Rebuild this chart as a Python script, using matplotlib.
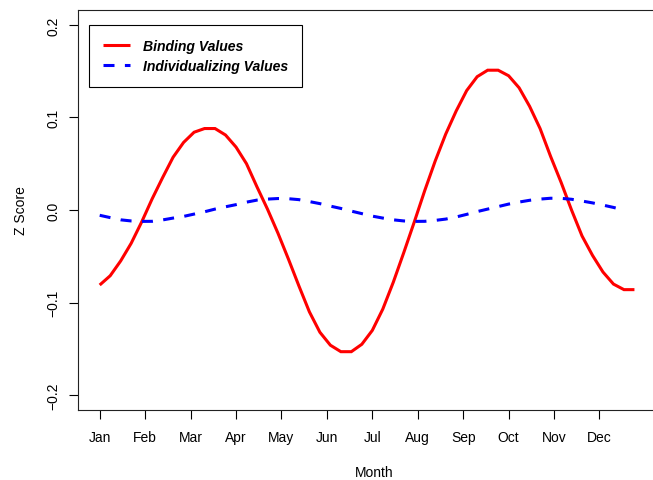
import numpy as np
import matplotlib
matplotlib.use("Agg")
import matplotlib.pyplot as plt

plt.rcParams['font.family'] = ['Liberation Sans', 'DejaVu Sans']

# weekly z scores, week 0 = start of January
binding = [-0.081, -0.071, -0.055, -0.036, -0.013, 0.012, 0.035, 0.057, 0.073, 0.084,
           0.088, 0.088, 0.081, 0.068, 0.050, 0.025, 0.001, -0.025, -0.053, -0.082,
           -0.110, -0.132, -0.146, -0.153, -0.153, -0.145, -0.130, -0.107, -0.078, -0.046,
           -0.013, 0.021, 0.053, 0.082, 0.107, 0.129, 0.144, 0.151, 0.151, 0.145,
           0.132, 0.112, 0.088, 0.058, 0.030, 0.000, -0.028, -0.049, -0.067, -0.080,
           -0.086, -0.086]
individualizing = [-0.0057, -0.0082, -0.0106, -0.0118, -0.0123, -0.0122, -0.0107, -0.0087,
                   -0.0069, -0.0044, -0.0019, 0.0010, 0.0035, 0.0058, 0.0085, 0.0107,
                   0.0118, 0.0124, 0.0122, 0.0112, 0.0091, 0.0069, 0.0042, 0.0017,
                   -0.0012, -0.0039, -0.0066, -0.0087, -0.0106, -0.0118, -0.0123, -0.0122,
                   -0.0112, -0.0098, -0.0075, -0.0047, -0.0017, 0.0010, 0.0037, 0.0064,
                   0.0086, 0.0105, 0.0118, 0.0127, 0.0126, 0.0116, 0.0097, 0.0077,
                   0.0053, 0.0028, -0.0001]
months = ['Jan', 'Feb', 'Mar', 'Apr', 'May', 'Jun', 'Jul', 'Aug', 'Sep', 'Oct', 'Nov', 'Dec']
y_ticks = [-0.2, -0.1, 0.0, 0.1, 0.2]

# week index -> month position (Jan = 1)
def week_to_month(n):
    return 1 + np.arange(n) * 12 / 52

fig = plt.figure(figsize=(6.53, 4.81), dpi=100)
ax = fig.add_axes([0.119, 0.1455, 0.909, 0.8316])

ax.plot(week_to_month(len(binding)), binding, color='red', lw=2.2,
        solid_joinstyle='miter', solid_capstyle='butt', label='Binding Values')
ax.plot(week_to_month(len(individualizing)), individualizing, color='blue', lw=2.2,
        dashes=(3.6, 3.4), dash_capstyle='butt', label='Individualizing Values')

ax.set_xlim(0.516, 13.58)
ax.set_ylim(-0.216, 0.216)

ax.set_xticks(np.arange(1, 13))
ax.set_xticklabels(months)
ax.set_yticks(y_ticks)
ax.set_yticklabels(['\u22120.2', '\u22120.1', '0.0', '0.1', '0.2'], rotation=90, va='center')
ax.tick_params(axis='both', direction='out', length=6.5, width=0.8, labelsize=10, color='black')
ax.tick_params(axis='x', pad=8)
ax.tick_params(axis='y', pad=6)
for s in ax.spines.values():
    s.set_linewidth(0.8)
    s.set_color('#222222')

ax.set_xlabel('Month', fontsize=10, labelpad=15)
ax.set_ylabel('Z Score', fontsize=10, labelpad=13)

leg = ax.legend(loc='upper left', bbox_to_anchor=(0.0185, 0.963), fancybox=False,
                edgecolor='black', framealpha=1, handlelength=1.95, handletextpad=0.9,
                borderpad=1.0, labelspacing=0.45, borderaxespad=0,
                prop={'size': 10.1, 'weight': 'bold', 'style': 'italic'})
leg.get_frame().set_linewidth(0.8)

fig.savefig('out.png', dpi=100)
